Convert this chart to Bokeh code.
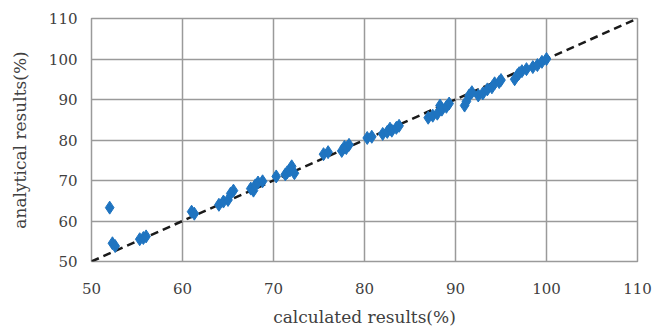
from bokeh.plotting import figure
from bokeh.embed import file_html
from bokeh.resources import INLINE
from bokeh.models import FixedTicker, Range1d

# data
calculated = [52.0, 52.3, 52.6, 55.3, 55.7, 56.0, 61.0, 61.3, 64.0, 64.5, 65.0,
              65.3, 65.6, 67.5, 67.8, 68.0, 68.3, 68.8, 70.3, 71.3, 71.5, 71.8,
              72.0, 72.3, 75.5, 76.0, 77.5, 77.8, 78.0, 78.3, 80.3, 80.8, 82.0,
              82.5, 82.8, 83.0, 83.5, 83.8, 87.0, 87.5, 88.0, 88.3, 88.5, 89.0,
              89.3, 91.0, 91.2, 91.5, 91.8, 92.5, 93.0, 93.5, 94.0, 94.3, 94.8,
              95.0, 96.5, 96.8, 97.0, 97.3, 97.8, 98.5, 99.0, 99.5, 100.0]
analytical = [63.3, 54.5, 53.8, 55.5, 55.8, 56.2, 62.3, 61.8, 64.0, 64.8, 65.2,
              66.8, 67.5, 68.0, 67.5, 68.8, 69.5, 69.8, 71.0, 71.5, 72.0, 72.5,
              73.5, 71.8, 76.5, 77.0, 77.3, 78.3, 78.0, 78.8, 80.5, 80.8, 81.5,
              82.0, 82.8, 82.3, 83.0, 83.5, 85.5, 86.0, 86.5, 88.5, 87.5, 88.2,
              89.0, 88.5, 89.5, 91.0, 91.8, 91.0, 91.5, 92.5, 93.0, 94.0, 94.3,
              94.8, 95.0, 96.0, 96.5, 97.0, 97.5, 98.0, 98.5, 99.3, 100.0]
ref_line = [50, 110]
ticks = [50, 60, 70, 80, 90, 100, 110]

p = figure(width=654, height=333, output_backend="svg", toolbar_location=None,
           x_range=Range1d(50, 110), y_range=Range1d(50, 110),
           min_border_left=91, min_border_right=17, min_border_top=18,
           min_border_bottom=72)

p.line(ref_line, ref_line, line_color="#1a1a1a", line_width=2.5, line_dash="8 5")
p.scatter(calculated, analytical, marker="diamond", size=13,
          fill_color="#1f74c0", line_color="#1f74c0")

for ax in (p.xaxis, p.yaxis):
    ax.ticker = FixedTicker(ticks=ticks)
    ax.axis_line_color = None
    ax.major_tick_line_color = None
    ax.minor_tick_line_color = None
    ax.major_label_text_font = "DejaVu Serif"
    ax.major_label_text_font_size = "15px"
    ax.major_label_text_color = "#404040"
    ax.axis_label_text_font = "DejaVu Serif"
    ax.axis_label_text_font_size = "17px"
    ax.axis_label_text_font_style = "normal"
    ax.axis_label_text_color = "#404040"

p.xaxis.axis_label = "calculated results(%)"
p.yaxis.axis_label = "analytical results(%)"
p.xaxis.major_label_standoff = 15
p.xaxis.axis_label_standoff = 10
p.yaxis.major_label_standoff = 8
p.yaxis.axis_label_standoff = 16

p.grid.grid_line_color = "#9a9a9a"
p.grid.grid_line_width = 1.5
p.outline_line_color = "#9a9a9a"
p.outline_line_width = 1.5
p.background_fill_color = "white"
p.border_fill_color = "white"

open("out.html", "w").write(file_html(p, INLINE))
